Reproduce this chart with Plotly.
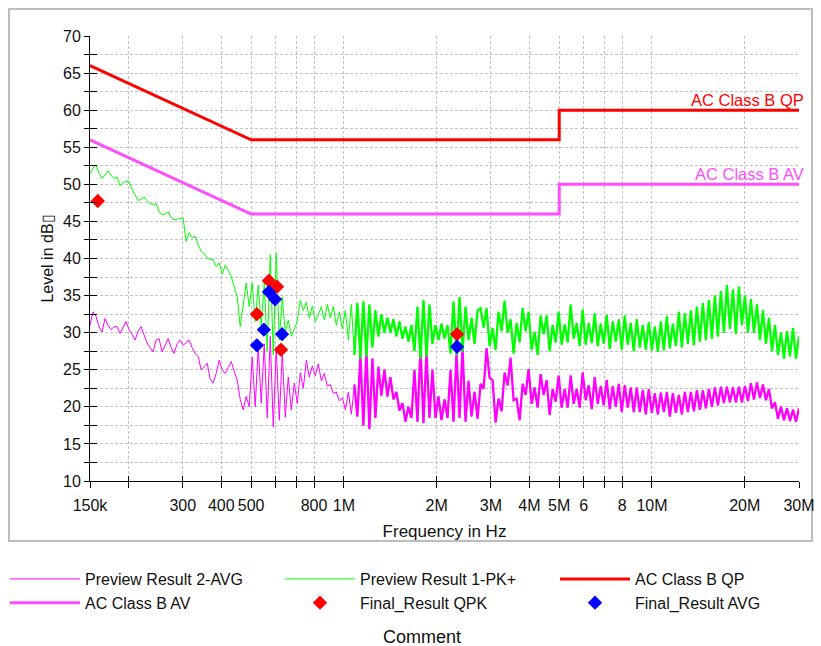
import numpy as np
import plotly.graph_objects as go

# ---------------- data ----------------
F_START, F_STOP = 150e3, 30e6   # sweep span of the receiver (Hz)

# Preview Result 1-PK+ (dBuV), read along the sweep from 150 kHz to 30 MHz
pk_levels = [
    51.4, 52.2, 52.6, 51.5, 50.8, 51.3, 51.8, 51.2, 50.8, 51.0,
    49.8, 50.2, 50.4, 50.4, 49.3, 48.6, 47.8, 48.0, 48.3, 47.8,
    47.4, 47.2, 47.4, 46.3, 45.9, 46.0, 46.3, 45.5, 45.2, 45.3,
    45.4, 45.5, 42.3, 43.5, 42.8, 43.0, 41.8, 41.0, 40.7, 40.1,
    39.9, 39.8, 38.9, 39.4, 37.9, 39.1, 38.4, 37.6, 36.2, 34.8,
    30.8, 33.5, 36.7, 33.5, 36.7, 31.5, 36.4, 31.0, 36.8, 27.5,
    40.5, 27.0, 40.7, 29.0, 34.8, 30.0, 31.7, 29.5, 30.4, 31.5,
    34.4, 33.0, 34.1, 32.0, 33.6, 31.5, 32.4, 33.5, 31.7, 33.8,
    32.0, 33.5, 31.0, 32.8, 30.5, 33.0, 29.0, 33.8, 27.0, 34.0,
    26.5, 34.2, 26.8, 33.8, 28.0, 33.0, 29.5, 32.5, 30.0, 32.0,
    30.0, 31.8, 29.5, 31.5, 29.2, 30.8, 28.8, 31.0, 27.5, 33.5,
    26.5, 34.4, 26.8, 33.8, 28.5, 31.0, 29.0, 31.2, 29.2, 31.0,
    27.2, 34.2, 27.0, 34.8, 27.5, 33.5, 29.0, 32.0, 28.5, 33.0,
    33.3, 30.7, 33.3, 28.2, 30.6, 27.7, 32.8, 30.2, 34.3, 30.0,
    31.8, 27.2, 31.3, 28.7, 33.3, 30.2, 32.8, 27.7, 30.1, 27.0,
    32.3, 29.8, 32.3, 27.5, 31.0, 28.7, 32.8, 28.4, 31.1, 28.7,
    33.8, 29.2, 31.3, 28.2, 33.1, 28.4, 31.3, 28.6, 32.6, 28.2,
    31.2, 28.5, 32.4, 27.8, 31.5, 28.8, 31.8, 27.7, 32.3, 28.4,
    31.3, 27.5, 31.8, 28.0, 31.0, 27.7, 31.4, 27.6, 30.8, 27.4,
    31.5, 27.6, 32.2, 27.9, 31.2, 28.2, 32.8, 28.0, 32.6, 28.5,
    33.0, 28.3, 33.5, 28.8, 34.0, 29.0, 34.4, 29.2, 35.0, 29.5,
    35.6, 30.0, 36.4, 30.5, 35.8, 29.8, 36.2, 31.0, 35.0, 30.0,
    34.5, 30.0, 33.8, 29.0, 33.0, 28.5, 32.0, 27.5, 31.0, 27.0,
    30.0, 26.5, 30.2, 26.8, 30.6, 26.5, 29.5,
]

# Preview Result 2-AVG (dBuV), same sweep
avg_levels = [
    31.0, 32.8, 32.2, 30.8, 30.1, 31.9, 31.0, 30.4, 30.8, 30.8,
    29.9, 30.8, 31.5, 30.4, 29.8, 29.0, 30.2, 30.8, 29.8, 28.6,
    28.0, 27.4, 29.0, 29.2, 27.4, 28.2, 29.2, 28.0, 27.2, 28.5,
    29.0, 28.3, 28.6, 29.0, 28.0, 27.2, 26.8, 25.0, 25.4, 25.9,
    23.8, 23.2, 24.5, 26.3, 25.0, 24.5, 25.3, 26.1, 24.8, 23.6,
    21.0, 19.6, 21.4, 20.0, 26.7, 20.0, 28.0, 20.5, 28.5, 18.5,
    29.5, 17.3, 28.0, 18.2, 27.3, 18.6, 24.0, 19.6, 23.2, 20.5,
    24.6, 22.5, 26.3, 24.0, 25.5, 24.2, 25.8, 23.5, 24.5, 22.8,
    23.0, 21.8, 22.0, 20.8, 21.2, 19.6, 22.0, 19.0, 23.0, 18.7,
    27.0, 17.5, 27.7, 17.0, 26.5, 18.5, 25.4, 21.5, 25.0, 21.4,
    24.0, 21.0, 22.0, 19.5, 20.5, 18.0, 20.0, 18.5, 25.0, 18.0,
    28.0, 17.8, 27.5, 18.5, 25.0, 18.5, 21.4, 18.2, 21.0, 18.5,
    25.0, 18.0, 27.2, 18.5, 28.0, 18.0, 23.5, 18.7, 22.0, 18.4,
    23.1, 22.4, 27.9, 23.9, 23.6, 17.9, 21.1, 19.4, 24.6, 22.9,
    26.6, 20.9, 21.1, 18.2, 23.1, 21.6, 25.1, 20.4, 22.6, 19.9,
    24.4, 21.6, 23.6, 18.9, 22.4, 20.7, 24.2, 19.9, 22.4, 19.9,
    24.2, 20.4, 22.4, 19.9, 24.6, 20.9, 22.9, 19.7, 24.0, 20.4,
    22.8, 20.2, 23.6, 19.7, 22.8, 20.0, 23.1, 19.3, 22.9, 19.9,
    22.6, 19.3, 22.6, 19.3, 22.3, 19.0, 22.4, 19.2, 21.8, 19.0,
    21.9, 19.3, 22.0, 18.7, 21.8, 19.2, 21.6, 19.0, 22.0, 19.3,
    22.0, 19.4, 22.2, 19.6, 22.2, 19.8, 22.4, 20.0, 22.6, 20.2,
    22.7, 20.5, 22.7, 20.6, 22.6, 20.6, 22.7, 20.6, 22.8, 20.8,
    23.2, 21.0, 23.3, 21.2, 23.0, 20.9, 22.4, 19.8, 20.6, 18.4,
    20.0, 18.2, 19.8, 18.1, 19.6, 18.0, 19.8,
]

# Limit lines
limit_freq = [150e3, 500e3, 5e6, 5e6, 30e6]
qp_limit = [66, 56, 56, 60, 60]
av_limit = [56, 46, 46, 50, 50]

# Final measurements
qpk_freq = [159e3, 522e3, 571e3, 607e3, 625e3, 2.33e6]
qpk_level = [47.75, 32.5, 37.0, 36.2, 27.7, 29.8]
avgf_freq = [522e3, 550e3, 571e3, 598e3, 630e3, 2.33e6]
avgf_level = [28.3, 30.4, 35.5, 34.5, 29.8, 28.1]

# Axis ticks
x_tickvals = [150e3, 200e3, 300e3, 400e3, 500e3, 600e3, 700e3, 800e3, 1e6,
              2e6, 3e6, 4e6, 5e6, 6e6, 7e6, 8e6, 10e6, 20e6, 30e6]
x_ticktext = ["150k", "", "300", "400", "500", "", "", "800", "1M",
              "2M", "3M", "4M", "5M", "6", "", "8", "10M", "20M", "30M"]
y_tickvals = [10 + 2.5 * k for k in range(25)]
y_ticktext = [str(int(v)) if v % 5 == 0 else "" for v in y_tickvals]

pk_freq = np.geomspace(F_START, F_STOP, len(pk_levels))
avg_freq = np.geomspace(F_START, F_STOP, len(avg_levels))
DENSE_FROM = 88   # sweep index where the dense (wide-band) part of the preview begins

# ---------------- figure ----------------
FONT = "Liberation Sans, Arial, sans-serif"
W, H = 821, 646
ML, MR, MT, MB = 90, 22, 36, 165
PW, PH = W - ML - MR, H - MT - MB
INK = "#111111"


def px_x(p):
    return (p - ML) / PW


def px_y(p):
    return (H - MB - p) / PH


fig = go.Figure()

fig.add_trace(go.Scatter(x=avg_freq, y=avg_levels, mode="lines", name="Preview Result 2-AVG",
                         line=dict(color="#ff00ff", width=1), legend="legend"))
fig.add_trace(go.Scatter(x=avg_freq[DENSE_FROM:], y=avg_levels[DENSE_FROM:], mode="lines",
                         line=dict(color="#ff00ff", width=2.3), showlegend=False, hoverinfo="skip"))
fig.add_trace(go.Scatter(x=pk_freq, y=pk_levels, mode="lines", name="Preview Result 1-PK+",
                         line=dict(color="#00ff00", width=1), legend="legend2"))
fig.add_trace(go.Scatter(x=pk_freq[DENSE_FROM:], y=pk_levels[DENSE_FROM:], mode="lines",
                         line=dict(color="#00ff00", width=2.3), showlegend=False, hoverinfo="skip"))
fig.add_trace(go.Scatter(x=limit_freq, y=qp_limit, mode="lines", name="AC Class B QP",
                         line=dict(color="#ff0000", width=3), legend="legend3"))
fig.add_trace(go.Scatter(x=limit_freq, y=av_limit, mode="lines", name="AC Class B AV",
                         line=dict(color="#ff4dff", width=3), legend="legend"))
fig.add_trace(go.Scatter(x=qpk_freq, y=qpk_level, mode="markers", name="Final_Result QPK",
                         marker=dict(symbol="diamond", size=11, color="#ff0000"), legend="legend2"))
fig.add_trace(go.Scatter(x=avgf_freq, y=avgf_level, mode="markers", name="Final_Result AVG",
                         marker=dict(symbol="diamond", size=11, color="#0000ff"), legend="legend3"))
# invisible helper so the inner-tick overlay axes are drawn
fig.add_trace(go.Scatter(x=[limit_freq[0]], y=[qp_limit[0]], xaxis="x2", yaxis="y2",
                         mode="markers", marker=dict(opacity=0), showlegend=False, hoverinfo="skip"))

xrange = [np.log10(F_START), np.log10(F_STOP)]
yrange = [10, 70]
grid = dict(showgrid=True, gridcolor="#c4c4c4", gridwidth=1, griddash="3px,2px")

fig.update_layout(
    width=W, height=H,
    margin=dict(l=ML, r=MR, t=MT, b=MB, autoexpand=False),
    paper_bgcolor="white", plot_bgcolor="white",
    font=dict(family=FONT, size=16, color=INK),
    xaxis=dict(type="log", range=xrange, tickvals=x_tickvals, ticktext=x_ticktext,
               ticks="outside", ticklen=6, tickcolor="black", tickwidth=1,
               showline=True, linecolor="black", linewidth=1, zeroline=False,
               tickfont=dict(size=16, color=INK), ticklabelstandoff=4,
               title=dict(text="Frequency in Hz", font=dict(size=17, color=INK), standoff=11),
               **grid),
    yaxis=dict(range=yrange, tickvals=y_tickvals, ticktext=y_ticktext,
               ticks="outside", ticklen=5, tickcolor="black", tickwidth=1,
               showline=True, linecolor="black", linewidth=1, zeroline=False,
               tickfont=dict(size=16, color=INK),
               title=dict(text="Level in dB\u25af", font=dict(size=16, color=INK), standoff=5),
               **grid),
    xaxis2=dict(type="log", range=xrange, tickvals=x_tickvals, overlaying="x", anchor="y", side="bottom",
                ticks="inside", ticklen=5, tickcolor="black", showticklabels=False,
                showgrid=False, showline=False, zeroline=False),
    yaxis2=dict(range=yrange, tickvals=y_tickvals, overlaying="y", anchor="x", side="left",
                ticks="inside", ticklen=7, tickcolor="black", showticklabels=False,
                showgrid=False, showline=False, zeroline=False),
    showlegend=True,
)

leg_common = dict(orientation="v", xanchor="left", yanchor="top", y=px_y(562),
                  font=dict(family=FONT, size=16, color=INK), bgcolor="rgba(0,0,0,0)",
                  itemwidth=70, tracegroupgap=0)
fig.update_layout(
    legend=dict(x=px_x(5), **leg_common),
    legend2=dict(x=px_x(280), **leg_common),
    legend3=dict(x=px_x(555), **leg_common),
)

# outer frame
fig.add_shape(type="rect", xref="paper", yref="paper",
              x0=px_x(9), x1=px_x(812), y0=px_y(541), y1=px_y(9),
              line=dict(color="#bdbdbd", width=2), fillcolor="rgba(0,0,0,0)", layer="below")

# limit labels
fig.add_annotation(x=np.log10(limit_freq[-1]), y=qp_limit[-1], text="AC Class B QP",
                   xanchor="right", yanchor="bottom", xshift=7, yshift=-1, showarrow=False,
                   font=dict(family=FONT, size=16.5, color="#ff0000"))
fig.add_annotation(x=np.log10(limit_freq[-1]), y=av_limit[-1], text="AC Class B AV",
                   xanchor="right", yanchor="bottom", xshift=7, yshift=-1, showarrow=False,
                   font=dict(family=FONT, size=16.5, color="#ff4dff"))
fig.add_annotation(xref="paper", yref="paper", x=px_x(422), y=px_y(637), text="Comment",
                   xanchor="center", yanchor="middle", showarrow=False,
                   font=dict(family=FONT, size=18, color=INK))

fig.write_html("out.html")
